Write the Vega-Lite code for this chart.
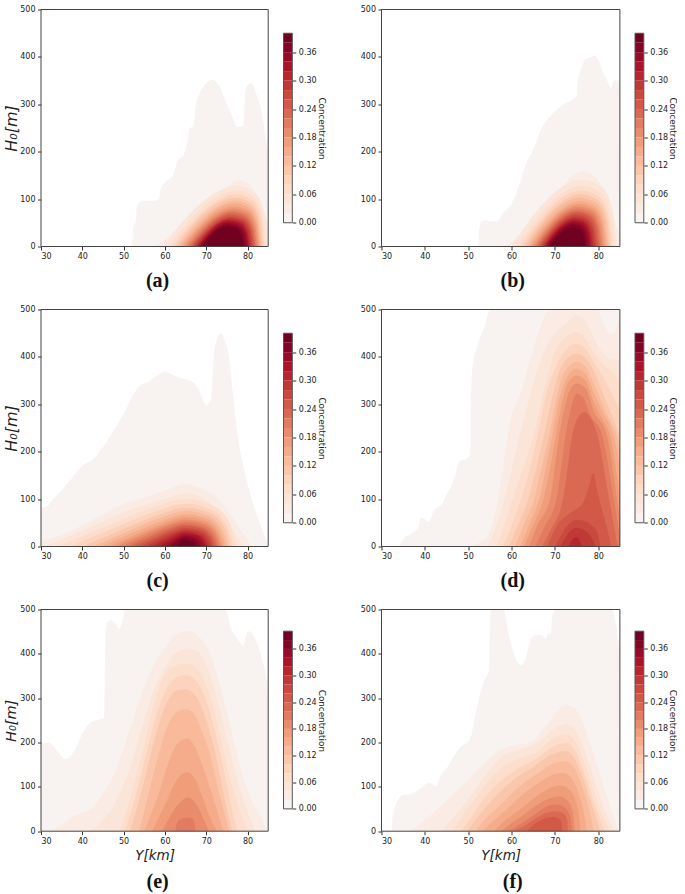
{"$schema":"https://vega.github.io/schema/vega-lite/v6.json","padding":{"left":3,"top":5.5,"right":0,"bottom":0},"background":"white","bounds":"flush","columns":5,"spacing":{"row":63,"column":14.5},
"config":{"view":{"stroke":null},"font":"DejaVu Sans","axis":{"grid":false,"labelFont":"DejaVu Sans","labelFontSize":8,"labelColor":"#222","labelOverlap":false,"tickColor":"#333","tickSize":3.5,"tickWidth":1,"domain":false,"labelPadding":2.5,"titleFont":"DejaVu Sans","titleFontWeight":"normal","titleColor":"#222"},"title":{"font":"Liberation Serif","fontWeight":"bold","fontSize":20,"color":"#111"}},
"datasets":{
"box":[{"x0":30,"x1":85,"y0":0,"y1":500}],
"bar":[{"lo":0,"hi":0.02,"c":0.01},{"lo":0.02,"hi":0.04,"c":0.03},{"lo":0.04,"hi":0.06,"c":0.05},{"lo":0.06,"hi":0.08,"c":0.07},{"lo":0.08,"hi":0.1,"c":0.09},{"lo":0.1,"hi":0.12,"c":0.11},{"lo":0.12,"hi":0.14,"c":0.13},{"lo":0.14,"hi":0.16,"c":0.15},{"lo":0.16,"hi":0.18,"c":0.17},{"lo":0.18,"hi":0.2,"c":0.19},{"lo":0.2,"hi":0.22,"c":0.21},{"lo":0.22,"hi":0.24,"c":0.23},{"lo":0.24,"hi":0.26,"c":0.25},{"lo":0.26,"hi":0.28,"c":0.27},{"lo":0.28,"hi":0.3,"c":0.29},{"lo":0.3,"hi":0.32,"c":0.31},{"lo":0.32,"hi":0.34,"c":0.33},{"lo":0.34,"hi":0.36,"c":0.35},{"lo":0.36,"hi":0.38,"c":0.37},{"lo":0.38,"hi":0.4,"c":0.39}],
"frame":[{"lo":0,"hi":0.4}],
"a":[
{"c":0.01,"Y":52,"H":0},{"c":0.01,"Y":52.2,"H":30},{"c":0.01,"Y":53,"H":60},{"c":0.01,"Y":53.2,"H":85},{"c":0.01,"Y":54,"H":95},{"c":0.01,"Y":55,"H":97},{"c":0.01,"Y":57,"H":96},{"c":0.01,"Y":58.5,"H":100},{"c":0.01,"Y":59,"H":120},{"c":0.01,"Y":60,"H":135},{"c":0.01,"Y":62,"H":150},{"c":0.01,"Y":63,"H":180},{"c":0.01,"Y":64.5,"H":192},{"c":0.01,"Y":65.5,"H":225},{"c":0.01,"Y":66,"H":250},{"c":0.01,"Y":66.8,"H":252},{"c":0.01,"Y":67.5,"H":300},{"c":0.01,"Y":68.5,"H":325},{"c":0.01,"Y":70,"H":345},{"c":0.01,"Y":71.5,"H":352},{"c":0.01,"Y":73,"H":340},{"c":0.01,"Y":75,"H":300},{"c":0.01,"Y":76.5,"H":270},{"c":0.01,"Y":77.5,"H":252},{"c":0.01,"Y":79,"H":255},{"c":0.01,"Y":79.5,"H":330},{"c":0.01,"Y":80,"H":340},{"c":0.01,"Y":81,"H":345},{"c":0.01,"Y":82,"H":325},{"c":0.01,"Y":83.5,"H":280},{"c":0.01,"Y":84.5,"H":225},{"c":0.01,"Y":85,"H":200},
{"c":0.03,"Y":57.3,"H":0},{"c":0.03,"Y":60,"H":15},{"c":0.03,"Y":65,"H":55},{"c":0.03,"Y":70,"H":93},{"c":0.03,"Y":75,"H":125},{"c":0.03,"Y":77.5,"H":140},{"c":0.03,"Y":80,"H":135},{"c":0.03,"Y":82,"H":110},{"c":0.03,"Y":84,"H":72},{"c":0.03,"Y":85,"H":50},
{"c":0.05,"Y":59.5,"H":0},{"c":0.05,"Y":65.8,"H":67},{"c":0.05,"Y":72.1,"H":113},{"c":0.05,"Y":77.5,"H":128},{"c":0.05,"Y":81.6,"H":115},{"c":0.05,"Y":84.1,"H":70},{"c":0.05,"Y":85,"H":20},
{"c":0.07,"Y":60.8,"H":0},{"c":0.07,"Y":66.6,"H":61},{"c":0.07,"Y":72.4,"H":104},{"c":0.07,"Y":77.4,"H":118},{"c":0.07,"Y":81.3,"H":106},{"c":0.07,"Y":83.6,"H":65},{"c":0.07,"Y":84.5,"H":0},
{"c":0.09,"Y":61.8,"H":0},{"c":0.09,"Y":67.2,"H":57},{"c":0.09,"Y":72.7,"H":97},{"c":0.09,"Y":77.3,"H":110},{"c":0.09,"Y":81,"H":99},{"c":0.09,"Y":83.3,"H":60},{"c":0.09,"Y":84.1,"H":0},
{"c":0.11,"Y":62.5,"H":0},{"c":0.11,"Y":67.6,"H":54},{"c":0.11,"Y":72.7,"H":91},{"c":0.11,"Y":77.1,"H":103},{"c":0.11,"Y":80.7,"H":93},{"c":0.11,"Y":82.9,"H":57},{"c":0.11,"Y":83.7,"H":0},
{"c":0.13,"Y":63.2,"H":0},{"c":0.13,"Y":68,"H":50},{"c":0.13,"Y":72.9,"H":85},{"c":0.13,"Y":77,"H":97},{"c":0.13,"Y":80.5,"H":87},{"c":0.13,"Y":82.6,"H":53},{"c":0.13,"Y":83.4,"H":0},
{"c":0.15,"Y":63.8,"H":0},{"c":0.15,"Y":68.4,"H":47},{"c":0.15,"Y":72.9,"H":80},{"c":0.15,"Y":76.8,"H":91},{"c":0.15,"Y":80.3,"H":82},{"c":0.15,"Y":82.3,"H":50},{"c":0.15,"Y":83.1,"H":0},
{"c":0.17,"Y":64.4,"H":0},{"c":0.17,"Y":68.7,"H":44},{"c":0.17,"Y":73,"H":75},{"c":0.17,"Y":76.7,"H":85},{"c":0.17,"Y":80,"H":77},{"c":0.17,"Y":82.1,"H":47},{"c":0.17,"Y":82.8,"H":0},
{"c":0.19,"Y":65,"H":0},{"c":0.19,"Y":69,"H":42},{"c":0.19,"Y":73.1,"H":70},{"c":0.19,"Y":76.5,"H":80},{"c":0.19,"Y":79.8,"H":72},{"c":0.19,"Y":81.8,"H":44},{"c":0.19,"Y":82.5,"H":0},
{"c":0.21,"Y":65.5,"H":0},{"c":0.21,"Y":69.3,"H":39},{"c":0.21,"Y":73.1,"H":66},{"c":0.21,"Y":76.3,"H":75},{"c":0.21,"Y":79.5,"H":68},{"c":0.21,"Y":81.5,"H":41},{"c":0.21,"Y":82.2,"H":0},
{"c":0.23,"Y":66,"H":0},{"c":0.23,"Y":69.6,"H":37},{"c":0.23,"Y":73.1,"H":62},{"c":0.23,"Y":76.2,"H":71},{"c":0.23,"Y":79.3,"H":64},{"c":0.23,"Y":81.2,"H":39},{"c":0.23,"Y":81.9,"H":0},
{"c":0.25,"Y":66.4,"H":0},{"c":0.25,"Y":69.8,"H":35},{"c":0.25,"Y":73.1,"H":59},{"c":0.25,"Y":76,"H":67},{"c":0.25,"Y":79.1,"H":60},{"c":0.25,"Y":80.9,"H":37},{"c":0.25,"Y":81.6,"H":0},
{"c":0.27,"Y":66.8,"H":0},{"c":0.27,"Y":70,"H":33},{"c":0.27,"Y":73.2,"H":55},{"c":0.27,"Y":75.9,"H":63},{"c":0.27,"Y":78.9,"H":57},{"c":0.27,"Y":80.7,"H":35},{"c":0.27,"Y":81.3,"H":0},
{"c":0.29,"Y":67.2,"H":0},{"c":0.29,"Y":70.2,"H":31},{"c":0.29,"Y":73.2,"H":53},{"c":0.29,"Y":75.7,"H":60},{"c":0.29,"Y":78.6,"H":54},{"c":0.29,"Y":80.4,"H":33},{"c":0.29,"Y":81,"H":0},
{"c":0.31,"Y":67.6,"H":0},{"c":0.31,"Y":70.4,"H":30},{"c":0.31,"Y":73.2,"H":50},{"c":0.31,"Y":75.6,"H":57},{"c":0.31,"Y":78.4,"H":51},{"c":0.31,"Y":80,"H":31},{"c":0.31,"Y":80.6,"H":0},
{"c":0.33,"Y":68,"H":0},{"c":0.33,"Y":70.6,"H":28},{"c":0.33,"Y":73.2,"H":48},{"c":0.33,"Y":75.4,"H":54},{"c":0.33,"Y":78.1,"H":49},{"c":0.33,"Y":79.7,"H":30},{"c":0.33,"Y":80.3,"H":0},
{"c":0.35,"Y":68.3,"H":0},{"c":0.35,"Y":70.8,"H":26},{"c":0.35,"Y":73.2,"H":44},{"c":0.35,"Y":75.3,"H":50},{"c":0.35,"Y":77.9,"H":45},{"c":0.35,"Y":79.4,"H":28},{"c":0.35,"Y":80,"H":0},
{"c":0.37,"Y":68.7,"H":0},{"c":0.37,"Y":70.9,"H":24},{"c":0.37,"Y":73.2,"H":41},{"c":0.37,"Y":75.1,"H":47},{"c":0.37,"Y":77.5,"H":42},{"c":0.37,"Y":79,"H":26},{"c":0.37,"Y":79.5,"H":0},
{"c":0.39,"Y":69,"H":0},{"c":0.39,"Y":71.1,"H":22},{"c":0.39,"Y":73.2,"H":37},{"c":0.39,"Y":75,"H":42},{"c":0.39,"Y":77.2,"H":38},{"c":0.39,"Y":78.5,"H":23},{"c":0.39,"Y":79,"H":0}],
"b":[
{"c":0.01,"Y":52.4,"H":0},{"c":0.01,"Y":52.5,"H":35},{"c":0.01,"Y":53,"H":52},{"c":0.01,"Y":54,"H":55},{"c":0.01,"Y":56,"H":52},{"c":0.01,"Y":57,"H":55},{"c":0.01,"Y":58,"H":70},{"c":0.01,"Y":60,"H":90},{"c":0.01,"Y":61,"H":110},{"c":0.01,"Y":62,"H":135},{"c":0.01,"Y":63,"H":165},{"c":0.01,"Y":65,"H":205},{"c":0.01,"Y":67,"H":250},{"c":0.01,"Y":70,"H":285},{"c":0.01,"Y":72,"H":300},{"c":0.01,"Y":74,"H":310},{"c":0.01,"Y":75,"H":318},{"c":0.01,"Y":75.2,"H":345},{"c":0.01,"Y":76,"H":375},{"c":0.01,"Y":77,"H":395},{"c":0.01,"Y":78,"H":398},{"c":0.01,"Y":79,"H":403},{"c":0.01,"Y":80,"H":395},{"c":0.01,"Y":81,"H":370},{"c":0.01,"Y":82,"H":350},{"c":0.01,"Y":83,"H":335},{"c":0.01,"Y":83.5,"H":350},{"c":0.01,"Y":85,"H":350},
{"c":0.03,"Y":58.2,"H":0},{"c":0.03,"Y":60,"H":10},{"c":0.03,"Y":65,"H":60},{"c":0.03,"Y":70,"H":110},{"c":0.03,"Y":74,"H":148},{"c":0.03,"Y":76.3,"H":158},{"c":0.03,"Y":79,"H":150},{"c":0.03,"Y":81,"H":122},{"c":0.03,"Y":83,"H":75},{"c":0.03,"Y":85,"H":20},
{"c":0.05,"Y":60,"H":0},{"c":0.05,"Y":65.7,"H":73},{"c":0.05,"Y":71.3,"H":124},{"c":0.05,"Y":76.2,"H":141},{"c":0.05,"Y":80.7,"H":127},{"c":0.05,"Y":83.3,"H":78},{"c":0.05,"Y":84.3,"H":0},
{"c":0.07,"Y":61.2,"H":0},{"c":0.07,"Y":66.4,"H":66},{"c":0.07,"Y":71.6,"H":113},{"c":0.07,"Y":76.1,"H":128},{"c":0.07,"Y":80.3,"H":115},{"c":0.07,"Y":82.8,"H":70},{"c":0.07,"Y":83.7,"H":0},
{"c":0.09,"Y":62,"H":0},{"c":0.09,"Y":66.9,"H":61},{"c":0.09,"Y":71.8,"H":104},{"c":0.09,"Y":76,"H":118},{"c":0.09,"Y":80,"H":106},{"c":0.09,"Y":82.3,"H":65},{"c":0.09,"Y":83.2,"H":0},
{"c":0.11,"Y":62.8,"H":0},{"c":0.11,"Y":67.4,"H":57},{"c":0.11,"Y":72,"H":97},{"c":0.11,"Y":75.9,"H":110},{"c":0.11,"Y":79.7,"H":99},{"c":0.11,"Y":82,"H":60},{"c":0.11,"Y":82.8,"H":0},
{"c":0.13,"Y":63.4,"H":0},{"c":0.13,"Y":67.7,"H":54},{"c":0.13,"Y":72,"H":91},{"c":0.13,"Y":75.7,"H":103},{"c":0.13,"Y":79.4,"H":93},{"c":0.13,"Y":81.6,"H":57},{"c":0.13,"Y":82.4,"H":0},
{"c":0.15,"Y":64,"H":0},{"c":0.15,"Y":68.1,"H":50},{"c":0.15,"Y":72.1,"H":84},{"c":0.15,"Y":75.6,"H":96},{"c":0.15,"Y":79.1,"H":86},{"c":0.15,"Y":81.2,"H":53},{"c":0.15,"Y":82,"H":0},
{"c":0.17,"Y":64.5,"H":0},{"c":0.17,"Y":68.4,"H":47},{"c":0.17,"Y":72.2,"H":79},{"c":0.17,"Y":75.5,"H":90},{"c":0.17,"Y":78.9,"H":81},{"c":0.17,"Y":80.9,"H":50},{"c":0.17,"Y":81.6,"H":0},
{"c":0.19,"Y":65,"H":0},{"c":0.19,"Y":68.6,"H":44},{"c":0.19,"Y":72.3,"H":75},{"c":0.19,"Y":75.4,"H":85},{"c":0.19,"Y":78.6,"H":77},{"c":0.19,"Y":80.5,"H":47},{"c":0.19,"Y":81.2,"H":0},
{"c":0.21,"Y":65.5,"H":0},{"c":0.21,"Y":68.9,"H":42},{"c":0.21,"Y":72.3,"H":70},{"c":0.21,"Y":75.2,"H":80},{"c":0.21,"Y":78.3,"H":72},{"c":0.21,"Y":80.1,"H":44},{"c":0.21,"Y":80.8,"H":0},
{"c":0.23,"Y":65.9,"H":0},{"c":0.23,"Y":69.1,"H":39},{"c":0.23,"Y":72.3,"H":66},{"c":0.23,"Y":75.1,"H":75},{"c":0.23,"Y":78,"H":68},{"c":0.23,"Y":79.8,"H":41},{"c":0.23,"Y":80.4,"H":0},
{"c":0.25,"Y":66.3,"H":0},{"c":0.25,"Y":69.3,"H":37},{"c":0.25,"Y":72.4,"H":62},{"c":0.25,"Y":75,"H":71},{"c":0.25,"Y":77.8,"H":64},{"c":0.25,"Y":79.4,"H":39},{"c":0.25,"Y":80,"H":0},
{"c":0.27,"Y":66.7,"H":0},{"c":0.27,"Y":69.5,"H":35},{"c":0.27,"Y":72.4,"H":59},{"c":0.27,"Y":74.8,"H":67},{"c":0.27,"Y":77.4,"H":60},{"c":0.27,"Y":79,"H":37},{"c":0.27,"Y":79.6,"H":0},
{"c":0.29,"Y":67,"H":0},{"c":0.29,"Y":69.7,"H":33},{"c":0.29,"Y":72.4,"H":55},{"c":0.29,"Y":74.7,"H":63},{"c":0.29,"Y":77.2,"H":57},{"c":0.29,"Y":78.7,"H":35},{"c":0.29,"Y":79.2,"H":0},
{"c":0.31,"Y":67.4,"H":0},{"c":0.31,"Y":69.9,"H":31},{"c":0.31,"Y":72.4,"H":52},{"c":0.31,"Y":74.6,"H":59},{"c":0.31,"Y":76.9,"H":53},{"c":0.31,"Y":78.3,"H":32},{"c":0.31,"Y":78.8,"H":0},
{"c":0.33,"Y":67.7,"H":0},{"c":0.33,"Y":70,"H":29},{"c":0.33,"Y":72.4,"H":48},{"c":0.33,"Y":74.4,"H":55},{"c":0.33,"Y":76.6,"H":50},{"c":0.33,"Y":77.9,"H":30},{"c":0.33,"Y":78.4,"H":0},
{"c":0.35,"Y":68,"H":0},{"c":0.35,"Y":70.2,"H":27},{"c":0.35,"Y":72.4,"H":45},{"c":0.35,"Y":74.3,"H":51},{"c":0.35,"Y":76.3,"H":46},{"c":0.35,"Y":77.6,"H":28},{"c":0.35,"Y":78,"H":0},
{"c":0.37,"Y":68.4,"H":0},{"c":0.37,"Y":70.4,"H":24},{"c":0.37,"Y":72.4,"H":41},{"c":0.37,"Y":74.1,"H":47},{"c":0.37,"Y":76,"H":42},{"c":0.37,"Y":77.1,"H":26},{"c":0.37,"Y":77.5,"H":0},
{"c":0.39,"Y":68.8,"H":0},{"c":0.39,"Y":70.6,"H":21},{"c":0.39,"Y":72.4,"H":35},{"c":0.39,"Y":74,"H":40},{"c":0.39,"Y":75.7,"H":36},{"c":0.39,"Y":76.6,"H":22},{"c":0.39,"Y":77,"H":0}],
"cc":[
{"c":0.01,"Y":30,"H":82},{"c":0.01,"Y":31.5,"H":85},{"c":0.01,"Y":33,"H":100},{"c":0.01,"Y":35,"H":118},{"c":0.01,"Y":37,"H":140},{"c":0.01,"Y":40,"H":170},{"c":0.01,"Y":43,"H":188},{"c":0.01,"Y":45,"H":210},{"c":0.01,"Y":48,"H":250},{"c":0.01,"Y":50,"H":280},{"c":0.01,"Y":52,"H":315},{"c":0.01,"Y":54,"H":340},{"c":0.01,"Y":56,"H":347},{"c":0.01,"Y":58,"H":360},{"c":0.01,"Y":60,"H":368},{"c":0.01,"Y":62,"H":362},{"c":0.01,"Y":64,"H":355},{"c":0.01,"Y":66,"H":350},{"c":0.01,"Y":68,"H":335},{"c":0.01,"Y":70,"H":298},{"c":0.01,"Y":71.2,"H":310},{"c":0.01,"Y":71.7,"H":390},{"c":0.01,"Y":72.5,"H":435},{"c":0.01,"Y":73.5,"H":450},{"c":0.01,"Y":74.5,"H":435},{"c":0.01,"Y":75.5,"H":400},{"c":0.01,"Y":76.5,"H":320},{"c":0.01,"Y":77.5,"H":240},{"c":0.01,"Y":79,"H":170},{"c":0.01,"Y":81,"H":100},{"c":0.01,"Y":83,"H":50},{"c":0.01,"Y":85,"H":0},
{"c":0.03,"Y":30,"H":10},{"c":0.03,"Y":35,"H":25},{"c":0.03,"Y":40,"H":45},{"c":0.03,"Y":45,"H":68},{"c":0.03,"Y":50,"H":90},{"c":0.03,"Y":55,"H":103},{"c":0.03,"Y":60,"H":118},{"c":0.03,"Y":65,"H":132},{"c":0.03,"Y":68,"H":125},{"c":0.03,"Y":70,"H":118},{"c":0.03,"Y":73,"H":100},{"c":0.03,"Y":75,"H":78},{"c":0.03,"Y":78,"H":40},{"c":0.03,"Y":81,"H":0},
{"c":0.05,"Y":31,"H":0},{"c":0.05,"Y":35,"H":16},{"c":0.05,"Y":40,"H":33},{"c":0.05,"Y":45,"H":53},{"c":0.05,"Y":50,"H":73},{"c":0.05,"Y":55,"H":87},{"c":0.05,"Y":60,"H":100},{"c":0.05,"Y":65,"H":112},{"c":0.05,"Y":68,"H":107},{"c":0.05,"Y":70,"H":98},{"c":0.05,"Y":73,"H":75},{"c":0.05,"Y":75,"H":53},{"c":0.05,"Y":77,"H":28},{"c":0.05,"Y":79,"H":0},
{"c":0.07,"Y":34,"H":0},{"c":0.07,"Y":46.4,"H":45},{"c":0.07,"Y":57.3,"H":83},{"c":0.07,"Y":65,"H":100},{"c":0.07,"Y":71.3,"H":88},{"c":0.07,"Y":75.6,"H":50},{"c":0.07,"Y":77.5,"H":0},
{"c":0.09,"Y":37,"H":0},{"c":0.09,"Y":48.2,"H":41},{"c":0.09,"Y":58,"H":75},{"c":0.09,"Y":65,"H":90},{"c":0.09,"Y":70.9,"H":79},{"c":0.09,"Y":74.9,"H":45},{"c":0.09,"Y":76.7,"H":0},
{"c":0.11,"Y":40,"H":0},{"c":0.11,"Y":50,"H":37},{"c":0.11,"Y":58.8,"H":68},{"c":0.11,"Y":65,"H":82},{"c":0.11,"Y":70.5,"H":72},{"c":0.11,"Y":74.4,"H":41},{"c":0.11,"Y":76,"H":0},
{"c":0.13,"Y":42.5,"H":0},{"c":0.13,"Y":51.5,"H":34},{"c":0.13,"Y":59.4,"H":62},{"c":0.13,"Y":65,"H":75},{"c":0.13,"Y":70.2,"H":66},{"c":0.13,"Y":73.8,"H":37},{"c":0.13,"Y":75.4,"H":0},
{"c":0.15,"Y":44.5,"H":0},{"c":0.15,"Y":52.7,"H":31},{"c":0.15,"Y":59.9,"H":56},{"c":0.15,"Y":65,"H":68},{"c":0.15,"Y":69.9,"H":60},{"c":0.15,"Y":73.3,"H":34},{"c":0.15,"Y":74.8,"H":0},
{"c":0.17,"Y":46.5,"H":0},{"c":0.17,"Y":53.9,"H":28},{"c":0.17,"Y":60.4,"H":51},{"c":0.17,"Y":65,"H":62},{"c":0.17,"Y":69.6,"H":55},{"c":0.17,"Y":72.8,"H":31},{"c":0.17,"Y":74.2,"H":0},
{"c":0.19,"Y":48,"H":0},{"c":0.19,"Y":54.8,"H":26},{"c":0.19,"Y":60.8,"H":47},{"c":0.19,"Y":65,"H":57},{"c":0.19,"Y":69.4,"H":50},{"c":0.19,"Y":72.4,"H":28},{"c":0.19,"Y":73.7,"H":0},
{"c":0.21,"Y":49.5,"H":0},{"c":0.21,"Y":55.7,"H":23},{"c":0.21,"Y":61.1,"H":43},{"c":0.21,"Y":65,"H":52},{"c":0.21,"Y":69.1,"H":46},{"c":0.21,"Y":72,"H":26},{"c":0.21,"Y":73.2,"H":0},
{"c":0.23,"Y":51,"H":0},{"c":0.23,"Y":56.6,"H":21},{"c":0.23,"Y":61.4,"H":39},{"c":0.23,"Y":64.9,"H":47},{"c":0.23,"Y":68.8,"H":41},{"c":0.23,"Y":71.5,"H":23},{"c":0.23,"Y":72.7,"H":0},
{"c":0.25,"Y":52.5,"H":0},{"c":0.25,"Y":57.5,"H":19},{"c":0.25,"Y":61.8,"H":36},{"c":0.25,"Y":64.9,"H":43},{"c":0.25,"Y":68.6,"H":38},{"c":0.25,"Y":71.1,"H":21},{"c":0.25,"Y":72.2,"H":0},
{"c":0.27,"Y":54,"H":0},{"c":0.27,"Y":58.3,"H":18},{"c":0.27,"Y":62.1,"H":32},{"c":0.27,"Y":64.8,"H":39},{"c":0.27,"Y":68.3,"H":34},{"c":0.27,"Y":70.7,"H":19},{"c":0.27,"Y":71.7,"H":0},
{"c":0.29,"Y":55.5,"H":0},{"c":0.29,"Y":59.2,"H":16},{"c":0.29,"Y":62.5,"H":29},{"c":0.29,"Y":64.8,"H":35},{"c":0.29,"Y":68,"H":31},{"c":0.29,"Y":70.2,"H":17},{"c":0.29,"Y":71.2,"H":0},
{"c":0.31,"Y":57,"H":0},{"c":0.31,"Y":60.1,"H":14},{"c":0.31,"Y":62.8,"H":26},{"c":0.31,"Y":64.7,"H":31},{"c":0.31,"Y":67.7,"H":27},{"c":0.31,"Y":69.7,"H":15},{"c":0.31,"Y":70.6,"H":0},
{"c":0.33,"Y":58.5,"H":0},{"c":0.33,"Y":61,"H":12},{"c":0.33,"Y":63.2,"H":22},{"c":0.33,"Y":64.7,"H":27},{"c":0.33,"Y":67.4,"H":24},{"c":0.33,"Y":69.2,"H":13},{"c":0.33,"Y":70,"H":0},
{"c":0.35,"Y":60,"H":0},{"c":0.35,"Y":61.8,"H":10},{"c":0.35,"Y":63.5,"H":19},{"c":0.35,"Y":64.6,"H":23},{"c":0.35,"Y":67,"H":20},{"c":0.35,"Y":68.6,"H":11},{"c":0.35,"Y":69.3,"H":0},
{"c":0.37,"Y":61,"H":0},{"c":0.37,"Y":62.4,"H":9},{"c":0.37,"Y":63.7,"H":16},{"c":0.37,"Y":64.6,"H":19},{"c":0.37,"Y":66.6,"H":17},{"c":0.37,"Y":67.9,"H":9},{"c":0.37,"Y":68.5,"H":0},
{"c":0.39,"Y":62.5,"H":0},{"c":0.39,"Y":63.3,"H":6},{"c":0.39,"Y":64,"H":12},{"c":0.39,"Y":64.6,"H":14},{"c":0.39,"Y":66,"H":12},{"c":0.39,"Y":67,"H":7},{"c":0.39,"Y":67.5,"H":0}],
"d":[
{"c":0.01,"Y":34,"H":0},{"c":0.01,"Y":35,"H":15},{"c":0.01,"Y":37,"H":28},{"c":0.01,"Y":38.5,"H":38},{"c":0.01,"Y":39,"H":60},{"c":0.01,"Y":40,"H":58},{"c":0.01,"Y":41,"H":52},{"c":0.01,"Y":42,"H":75},{"c":0.01,"Y":44,"H":90},{"c":0.01,"Y":45,"H":110},{"c":0.01,"Y":46,"H":125},{"c":0.01,"Y":47,"H":150},{"c":0.01,"Y":48,"H":180},{"c":0.01,"Y":49.5,"H":185},{"c":0.01,"Y":50.5,"H":195},{"c":0.01,"Y":50.6,"H":300},{"c":0.01,"Y":51,"H":380},{"c":0.01,"Y":52,"H":420},{"c":0.01,"Y":54,"H":470},{"c":0.01,"Y":55,"H":500},{"c":0.01,"Y":85,"H":500},
{"c":0.03,"Y":50,"H":0},{"c":0.03,"Y":54,"H":17},{"c":0.03,"Y":55.5,"H":45},{"c":0.03,"Y":57.8,"H":150},{"c":0.03,"Y":59.4,"H":250},{"c":0.03,"Y":62.5,"H":334},{"c":0.03,"Y":65.5,"H":432},{"c":0.03,"Y":69,"H":500},{"c":0.03,"Y":79.8,"H":500},{"c":0.03,"Y":81,"H":475},{"c":0.03,"Y":82.5,"H":450},{"c":0.03,"Y":83.2,"H":447},{"c":0.03,"Y":84,"H":455},{"c":0.03,"Y":85,"H":485},
{"c":0.05,"Y":54.5,"H":0},{"c":0.05,"Y":56.5,"H":45},{"c":0.05,"Y":58.5,"H":105},{"c":0.05,"Y":61.8,"H":235},{"c":0.05,"Y":64,"H":310},{"c":0.05,"Y":67,"H":400},{"c":0.05,"Y":70,"H":450},{"c":0.05,"Y":72.5,"H":470},{"c":0.05,"Y":75,"H":488},{"c":0.05,"Y":77,"H":475},{"c":0.05,"Y":79,"H":440},{"c":0.05,"Y":81,"H":410},{"c":0.05,"Y":83,"H":395},{"c":0.05,"Y":85,"H":395},
{"c":0.07,"Y":56.5,"H":0},{"c":0.07,"Y":58.5,"H":50},{"c":0.07,"Y":60.4,"H":105},{"c":0.07,"Y":63,"H":175},{"c":0.07,"Y":65.1,"H":235},{"c":0.07,"Y":67.5,"H":330},{"c":0.07,"Y":70,"H":410},{"c":0.07,"Y":73,"H":445},{"c":0.07,"Y":75,"H":453},{"c":0.07,"Y":77,"H":440},{"c":0.07,"Y":79,"H":410},{"c":0.07,"Y":81,"H":385},{"c":0.07,"Y":83,"H":370},{"c":0.07,"Y":85,"H":345},
{"c":0.09,"Y":58,"H":0},{"c":0.09,"Y":60,"H":45},{"c":0.09,"Y":62.4,"H":105},{"c":0.09,"Y":64.5,"H":175},{"c":0.09,"Y":66,"H":235},{"c":0.09,"Y":68,"H":320},{"c":0.09,"Y":70.5,"H":385},{"c":0.09,"Y":73,"H":420},{"c":0.09,"Y":75,"H":428},{"c":0.09,"Y":77,"H":418},{"c":0.09,"Y":79,"H":390},{"c":0.09,"Y":81,"H":360},{"c":0.09,"Y":83,"H":325},{"c":0.09,"Y":85,"H":290},
{"c":0.11,"Y":59.3,"H":0},{"c":0.11,"Y":61.5,"H":45},{"c":0.11,"Y":64,"H":105},{"c":0.11,"Y":65.8,"H":170},{"c":0.11,"Y":67.5,"H":235},{"c":0.11,"Y":69.5,"H":320},{"c":0.11,"Y":71.5,"H":380},{"c":0.11,"Y":75,"H":407},{"c":0.11,"Y":77,"H":398},{"c":0.11,"Y":79,"H":370},{"c":0.11,"Y":81,"H":325},{"c":0.11,"Y":83,"H":280},{"c":0.11,"Y":85,"H":235},
{"c":0.13,"Y":60.8,"H":0},{"c":0.13,"Y":63,"H":50},{"c":0.13,"Y":65.4,"H":105},{"c":0.13,"Y":67,"H":170},{"c":0.13,"Y":68.7,"H":235},{"c":0.13,"Y":70.3,"H":310},{"c":0.13,"Y":72,"H":365},{"c":0.13,"Y":75,"H":390},{"c":0.13,"Y":77,"H":380},{"c":0.13,"Y":79,"H":345},{"c":0.13,"Y":81,"H":300},{"c":0.13,"Y":83,"H":260},{"c":0.13,"Y":84.3,"H":235},{"c":0.13,"Y":85,"H":210},
{"c":0.15,"Y":62,"H":0},{"c":0.15,"Y":64,"H":45},{"c":0.15,"Y":66.5,"H":105},{"c":0.15,"Y":68,"H":170},{"c":0.15,"Y":69.4,"H":235},{"c":0.15,"Y":71,"H":310},{"c":0.15,"Y":72.7,"H":355},{"c":0.15,"Y":75,"H":375},{"c":0.15,"Y":77,"H":365},{"c":0.15,"Y":79,"H":325},{"c":0.15,"Y":81,"H":285},{"c":0.15,"Y":83.5,"H":235},{"c":0.15,"Y":85,"H":170},
{"c":0.17,"Y":62.8,"H":0},{"c":0.17,"Y":65,"H":45},{"c":0.17,"Y":67.5,"H":105},{"c":0.17,"Y":69,"H":170},{"c":0.17,"Y":70.2,"H":235},{"c":0.17,"Y":71.7,"H":305},{"c":0.17,"Y":73,"H":345},{"c":0.17,"Y":75,"H":361},{"c":0.17,"Y":77,"H":350},{"c":0.17,"Y":79,"H":305},{"c":0.17,"Y":81,"H":268},{"c":0.17,"Y":82.7,"H":235},{"c":0.17,"Y":85,"H":105},
{"c":0.19,"Y":64,"H":0},{"c":0.19,"Y":66,"H":45},{"c":0.19,"Y":69,"H":105},{"c":0.19,"Y":70,"H":170},{"c":0.19,"Y":71,"H":235},{"c":0.19,"Y":72.3,"H":295},{"c":0.19,"Y":73.5,"H":330},{"c":0.19,"Y":75,"H":344},{"c":0.19,"Y":77,"H":335},{"c":0.19,"Y":79,"H":285},{"c":0.19,"Y":82,"H":235},{"c":0.19,"Y":84.3,"H":105},{"c":0.19,"Y":85,"H":60},
{"c":0.21,"Y":65.5,"H":0},{"c":0.21,"Y":67.5,"H":40},{"c":0.21,"Y":70.5,"H":105},{"c":0.21,"Y":71.5,"H":170},{"c":0.21,"Y":72.5,"H":235},{"c":0.21,"Y":73.7,"H":290},{"c":0.21,"Y":75,"H":323},{"c":0.21,"Y":76.5,"H":315},{"c":0.21,"Y":78,"H":280},{"c":0.21,"Y":80.9,"H":235},{"c":0.21,"Y":83.5,"H":105},{"c":0.21,"Y":85,"H":20},
{"c":0.23,"Y":67,"H":0},{"c":0.23,"Y":69,"H":35},{"c":0.23,"Y":72,"H":105},{"c":0.23,"Y":73,"H":170},{"c":0.23,"Y":74,"H":235},{"c":0.23,"Y":75.2,"H":270},{"c":0.23,"Y":76.8,"H":284},{"c":0.23,"Y":78,"H":275},{"c":0.23,"Y":79.8,"H":235},{"c":0.23,"Y":82.4,"H":105},{"c":0.23,"Y":84.5,"H":0},
{"c":0.25,"Y":68.2,"H":0},{"c":0.25,"Y":70.5,"H":45},{"c":0.25,"Y":73.5,"H":70},{"c":0.25,"Y":76.6,"H":94},{"c":0.25,"Y":77.8,"H":125},{"c":0.25,"Y":78.9,"H":155},{"c":0.25,"Y":79.6,"H":125},{"c":0.25,"Y":80.5,"H":90},{"c":0.25,"Y":82,"H":40},{"c":0.25,"Y":83,"H":0},
{"c":0.27,"Y":70,"H":0},{"c":0.27,"Y":71.5,"H":25},{"c":0.27,"Y":73,"H":45},{"c":0.27,"Y":75,"H":56},{"c":0.27,"Y":77,"H":54},{"c":0.27,"Y":78.5,"H":45},{"c":0.27,"Y":80,"H":25},{"c":0.27,"Y":80.5,"H":0},
{"c":0.29,"Y":71.3,"H":0},{"c":0.29,"Y":72.5,"H":20},{"c":0.29,"Y":74,"H":36},{"c":0.29,"Y":75,"H":39},{"c":0.29,"Y":76.5,"H":36},{"c":0.29,"Y":78,"H":25},{"c":0.29,"Y":79.5,"H":0},
{"c":0.31,"Y":73.2,"H":0},{"c":0.31,"Y":74,"H":14},{"c":0.31,"Y":75,"H":20},{"c":0.31,"Y":75.6,"H":15},{"c":0.31,"Y":76.2,"H":0}],
"e":[
{"c":0.01,"Y":30,"H":198},{"c":0.01,"Y":32,"H":200},{"c":0.01,"Y":34,"H":180},{"c":0.01,"Y":36,"H":162},{"c":0.01,"Y":38,"H":180},{"c":0.01,"Y":40,"H":220},{"c":0.01,"Y":42,"H":245},{"c":0.01,"Y":44,"H":252},{"c":0.01,"Y":45.3,"H":256},{"c":0.01,"Y":45.6,"H":440},{"c":0.01,"Y":46,"H":470},{"c":0.01,"Y":46.8,"H":476},{"c":0.01,"Y":48,"H":468},{"c":0.01,"Y":49,"H":457},{"c":0.01,"Y":50,"H":487},{"c":0.01,"Y":50.3,"H":500},{"c":0.01,"Y":74.5,"H":500},{"c":0.01,"Y":76.2,"H":453},{"c":0.01,"Y":77.5,"H":434},{"c":0.01,"Y":79,"H":419},{"c":0.01,"Y":79.6,"H":442},{"c":0.01,"Y":80.4,"H":451},{"c":0.01,"Y":81.9,"H":434},{"c":0.01,"Y":83.5,"H":389},{"c":0.01,"Y":84.7,"H":337},{"c":0.01,"Y":85,"H":300},
{"c":0.03,"Y":32.7,"H":0},{"c":0.03,"Y":35,"H":15},{"c":0.03,"Y":38,"H":35},{"c":0.03,"Y":42,"H":50},{"c":0.03,"Y":45,"H":85},{"c":0.03,"Y":48,"H":135},{"c":0.03,"Y":51,"H":215},{"c":0.03,"Y":54,"H":300},{"c":0.03,"Y":57,"H":370},{"c":0.03,"Y":60,"H":415},{"c":0.03,"Y":63,"H":445},{"c":0.03,"Y":66,"H":452},{"c":0.03,"Y":68,"H":440},{"c":0.03,"Y":71,"H":400},{"c":0.03,"Y":73,"H":340},{"c":0.03,"Y":75,"H":270},{"c":0.03,"Y":77,"H":190},{"c":0.03,"Y":79,"H":120},{"c":0.03,"Y":81,"H":70},{"c":0.03,"Y":83,"H":35},{"c":0.03,"Y":84.7,"H":0},
{"c":0.05,"Y":42,"H":0},{"c":0.05,"Y":45,"H":25},{"c":0.05,"Y":48,"H":65},{"c":0.05,"Y":51,"H":130},{"c":0.05,"Y":54,"H":220},{"c":0.05,"Y":57,"H":310},{"c":0.05,"Y":60,"H":370},{"c":0.05,"Y":63,"H":405},{"c":0.05,"Y":66,"H":412},{"c":0.05,"Y":68,"H":405},{"c":0.05,"Y":70,"H":375},{"c":0.05,"Y":72,"H":320},{"c":0.05,"Y":74,"H":250},{"c":0.05,"Y":76,"H":170},{"c":0.05,"Y":78,"H":100},{"c":0.05,"Y":80,"H":45},{"c":0.05,"Y":81.9,"H":0},
{"c":0.07,"Y":49,"H":0},{"c":0.07,"Y":51,"H":55},{"c":0.07,"Y":53,"H":125},{"c":0.07,"Y":55,"H":195},{"c":0.07,"Y":57,"H":275},{"c":0.07,"Y":59,"H":335},{"c":0.07,"Y":62,"H":372},{"c":0.07,"Y":65.5,"H":378},{"c":0.07,"Y":68,"H":365},{"c":0.07,"Y":70,"H":330},{"c":0.07,"Y":72,"H":270},{"c":0.07,"Y":74,"H":190},{"c":0.07,"Y":76,"H":110},{"c":0.07,"Y":78,"H":50},{"c":0.07,"Y":79.9,"H":0},
{"c":0.09,"Y":50.3,"H":0},{"c":0.09,"Y":52,"H":50},{"c":0.09,"Y":54,"H":120},{"c":0.09,"Y":56,"H":195},{"c":0.09,"Y":58,"H":265},{"c":0.09,"Y":60,"H":315},{"c":0.09,"Y":62.5,"H":345},{"c":0.09,"Y":65,"H":352},{"c":0.09,"Y":67.5,"H":340},{"c":0.09,"Y":70,"H":295},{"c":0.09,"Y":72,"H":230},{"c":0.09,"Y":74,"H":150},{"c":0.09,"Y":76,"H":60},{"c":0.09,"Y":77.5,"H":0},
{"c":0.11,"Y":51.5,"H":0},{"c":0.11,"Y":53,"H":45},{"c":0.11,"Y":55,"H":115},{"c":0.11,"Y":57,"H":190},{"c":0.11,"Y":59,"H":255},{"c":0.11,"Y":61,"H":300},{"c":0.11,"Y":63,"H":318},{"c":0.11,"Y":65,"H":320},{"c":0.11,"Y":67.5,"H":305},{"c":0.11,"Y":70,"H":250},{"c":0.11,"Y":72,"H":185},{"c":0.11,"Y":74,"H":95},{"c":0.11,"Y":75.5,"H":30},{"c":0.11,"Y":76.3,"H":0},
{"c":0.13,"Y":53.7,"H":0},{"c":0.13,"Y":55,"H":45},{"c":0.13,"Y":57,"H":120},{"c":0.13,"Y":59,"H":190},{"c":0.13,"Y":61,"H":245},{"c":0.13,"Y":63,"H":270},{"c":0.13,"Y":65,"H":275},{"c":0.13,"Y":67,"H":265},{"c":0.13,"Y":69,"H":225},{"c":0.13,"Y":71,"H":170},{"c":0.13,"Y":73,"H":90},{"c":0.13,"Y":75,"H":20},{"c":0.13,"Y":75.5,"H":0},
{"c":0.15,"Y":54.9,"H":0},{"c":0.15,"Y":56.5,"H":35},{"c":0.15,"Y":58.5,"H":85},{"c":0.15,"Y":60.5,"H":145},{"c":0.15,"Y":62.5,"H":190},{"c":0.15,"Y":64,"H":205},{"c":0.15,"Y":65.5,"H":209},{"c":0.15,"Y":67,"H":195},{"c":0.15,"Y":69,"H":150},{"c":0.15,"Y":71,"H":95},{"c":0.15,"Y":73,"H":35},{"c":0.15,"Y":74.2,"H":0},
{"c":0.17,"Y":56.9,"H":0},{"c":0.17,"Y":58.5,"H":30},{"c":0.17,"Y":60.5,"H":70},{"c":0.17,"Y":62.5,"H":110},{"c":0.17,"Y":64,"H":128},{"c":0.17,"Y":65.5,"H":133},{"c":0.17,"Y":67,"H":122},{"c":0.17,"Y":69,"H":80},{"c":0.17,"Y":71,"H":30},{"c":0.17,"Y":72.6,"H":0},
{"c":0.19,"Y":59.3,"H":0},{"c":0.19,"Y":60.5,"H":20},{"c":0.19,"Y":62,"H":45},{"c":0.19,"Y":64,"H":68},{"c":0.19,"Y":65.5,"H":76},{"c":0.19,"Y":67,"H":68},{"c":0.19,"Y":69,"H":35},{"c":0.19,"Y":70.2,"H":10},{"c":0.19,"Y":70.6,"H":0},
{"c":0.21,"Y":62.5,"H":0},{"c":0.21,"Y":62.9,"H":18},{"c":0.21,"Y":64,"H":28},{"c":0.21,"Y":65.5,"H":31},{"c":0.21,"Y":66.9,"H":27},{"c":0.21,"Y":67.4,"H":0}],
"f":[
{"c":0.01,"Y":32.4,"H":0},{"c":0.01,"Y":32.5,"H":28},{"c":0.01,"Y":33.6,"H":66},{"c":0.01,"Y":34.8,"H":81},{"c":0.01,"Y":37,"H":85},{"c":0.01,"Y":39,"H":96},{"c":0.01,"Y":41,"H":109},{"c":0.01,"Y":42.8,"H":100},{"c":0.01,"Y":43,"H":111},{"c":0.01,"Y":45.5,"H":149},{"c":0.01,"Y":47.8,"H":186},{"c":0.01,"Y":50.5,"H":209},{"c":0.01,"Y":51.5,"H":254},{"c":0.01,"Y":52.5,"H":299},{"c":0.01,"Y":53.6,"H":337},{"c":0.01,"Y":54.8,"H":363},{"c":0.01,"Y":55,"H":457},{"c":0.01,"Y":55.2,"H":500},{"c":0.01,"Y":58.2,"H":500},{"c":0.01,"Y":59.4,"H":442},{"c":0.01,"Y":61,"H":389},{"c":0.01,"Y":62.2,"H":374},{"c":0.01,"Y":63.2,"H":389},{"c":0.01,"Y":64.4,"H":431},{"c":0.01,"Y":65.5,"H":442},{"c":0.01,"Y":67,"H":442},{"c":0.01,"Y":67.8,"H":435},{"c":0.01,"Y":68.5,"H":446},{"c":0.01,"Y":69,"H":446},{"c":0.01,"Y":69.4,"H":487},{"c":0.01,"Y":70.2,"H":500},{"c":0.01,"Y":83.2,"H":500},{"c":0.01,"Y":84,"H":472},{"c":0.01,"Y":84.8,"H":420},{"c":0.01,"Y":85,"H":405},
{"c":0.03,"Y":36.7,"H":0},{"c":0.03,"Y":39,"H":18},{"c":0.03,"Y":41.25,"H":36},{"c":0.03,"Y":45,"H":70},{"c":0.03,"Y":49,"H":107},{"c":0.03,"Y":52.8,"H":145},{"c":0.03,"Y":56.6,"H":178},{"c":0.03,"Y":60,"H":192},{"c":0.03,"Y":64.35,"H":201},{"c":0.03,"Y":68.2,"H":242},{"c":0.03,"Y":71,"H":275},{"c":0.03,"Y":72.8,"H":286},{"c":0.03,"Y":75.1,"H":272},{"c":0.03,"Y":78.2,"H":197},{"c":0.03,"Y":81.3,"H":100},{"c":0.03,"Y":83.6,"H":32},{"c":0.03,"Y":84.8,"H":0},
{"c":0.05,"Y":44,"H":0},{"c":0.05,"Y":46,"H":25},{"c":0.05,"Y":49,"H":60},{"c":0.05,"Y":52,"H":100},{"c":0.05,"Y":55,"H":140},{"c":0.05,"Y":58,"H":170},{"c":0.05,"Y":62,"H":185},{"c":0.05,"Y":66,"H":200},{"c":0.05,"Y":69,"H":225},{"c":0.05,"Y":72.8,"H":242},{"c":0.05,"Y":75,"H":225},{"c":0.05,"Y":77.5,"H":165},{"c":0.05,"Y":80,"H":90},{"c":0.05,"Y":82.5,"H":25},{"c":0.05,"Y":84,"H":0},
{"c":0.07,"Y":46.3,"H":0},{"c":0.07,"Y":49,"H":40},{"c":0.07,"Y":52,"H":80},{"c":0.07,"Y":55,"H":118},{"c":0.07,"Y":58,"H":145},{"c":0.07,"Y":62,"H":165},{"c":0.07,"Y":66,"H":180},{"c":0.07,"Y":69,"H":205},{"c":0.07,"Y":72.8,"H":218},{"c":0.07,"Y":75,"H":200},{"c":0.07,"Y":77,"H":150},{"c":0.07,"Y":79.5,"H":75},{"c":0.07,"Y":81.5,"H":25},{"c":0.07,"Y":82.8,"H":0},
{"c":0.09,"Y":48.2,"H":0},{"c":0.09,"Y":50,"H":22},{"c":0.09,"Y":53,"H":65},{"c":0.09,"Y":56,"H":100},{"c":0.09,"Y":59,"H":125},{"c":0.09,"Y":62,"H":145},{"c":0.09,"Y":66,"H":165},{"c":0.09,"Y":69,"H":188},{"c":0.09,"Y":72.7,"H":199},{"c":0.09,"Y":74.8,"H":180},{"c":0.09,"Y":77,"H":125},{"c":0.09,"Y":79,"H":65},{"c":0.09,"Y":81.5,"H":0},
{"c":0.11,"Y":49.7,"H":0},{"c":0.11,"Y":52,"H":30},{"c":0.11,"Y":55,"H":65},{"c":0.11,"Y":58,"H":95},{"c":0.11,"Y":61,"H":120},{"c":0.11,"Y":65,"H":145},{"c":0.11,"Y":69,"H":172},{"c":0.11,"Y":72.5,"H":181},{"c":0.11,"Y":74.5,"H":165},{"c":0.11,"Y":76.5,"H":120},{"c":0.11,"Y":78.5,"H":60},{"c":0.11,"Y":80.5,"H":0},
{"c":0.13,"Y":51.6,"H":0},{"c":0.13,"Y":54,"H":28},{"c":0.13,"Y":57,"H":55},{"c":0.13,"Y":60,"H":85},{"c":0.13,"Y":63,"H":110},{"c":0.13,"Y":66,"H":130},{"c":0.13,"Y":69,"H":150},{"c":0.13,"Y":72.3,"H":158},{"c":0.13,"Y":74.3,"H":145},{"c":0.13,"Y":76.5,"H":95},{"c":0.13,"Y":78,"H":45},{"c":0.13,"Y":79,"H":0},
{"c":0.15,"Y":53.2,"H":0},{"c":0.15,"Y":56,"H":25},{"c":0.15,"Y":59,"H":50},{"c":0.15,"Y":62,"H":78},{"c":0.15,"Y":65,"H":100},{"c":0.15,"Y":68,"H":120},{"c":0.15,"Y":70.5,"H":130},{"c":0.15,"Y":72,"H":131},{"c":0.15,"Y":74,"H":118},{"c":0.15,"Y":75.5,"H":85},{"c":0.15,"Y":76.8,"H":35},{"c":0.15,"Y":77.4,"H":0},
{"c":0.17,"Y":55.9,"H":0},{"c":0.17,"Y":58,"H":20},{"c":0.17,"Y":61,"H":42},{"c":0.17,"Y":64,"H":65},{"c":0.17,"Y":67,"H":87},{"c":0.17,"Y":70,"H":101},{"c":0.17,"Y":71.3,"H":103},{"c":0.17,"Y":73.5,"H":92},{"c":0.17,"Y":75,"H":60},{"c":0.17,"Y":75.7,"H":25},{"c":0.17,"Y":75.9,"H":0},
{"c":0.19,"Y":57.5,"H":0},{"c":0.19,"Y":60,"H":18},{"c":0.19,"Y":63,"H":38},{"c":0.19,"Y":66,"H":60},{"c":0.19,"Y":69,"H":75},{"c":0.19,"Y":71,"H":78},{"c":0.19,"Y":73,"H":68},{"c":0.19,"Y":74.2,"H":40},{"c":0.19,"Y":74.6,"H":0},
{"c":0.21,"Y":59.3,"H":0},{"c":0.21,"Y":61,"H":10},{"c":0.21,"Y":63.5,"H":25},{"c":0.21,"Y":66,"H":42},{"c":0.21,"Y":68,"H":55},{"c":0.21,"Y":70,"H":60},{"c":0.21,"Y":72,"H":55},{"c":0.21,"Y":73.5,"H":35},{"c":0.21,"Y":74,"H":0},
{"c":0.23,"Y":60.5,"H":0},{"c":0.23,"Y":63,"H":12},{"c":0.23,"Y":65,"H":25},{"c":0.23,"Y":67,"H":37},{"c":0.23,"Y":70,"H":45},{"c":0.23,"Y":72,"H":40},{"c":0.23,"Y":72.9,"H":22},{"c":0.23,"Y":73,"H":0},
{"c":0.25,"Y":63.6,"H":0},{"c":0.25,"Y":64.5,"H":10},{"c":0.25,"Y":66,"H":20},{"c":0.25,"Y":68,"H":30},{"c":0.25,"Y":69.5,"H":32},{"c":0.25,"Y":71,"H":28},{"c":0.25,"Y":71.6,"H":15},{"c":0.25,"Y":71.7,"H":0}]
},
"concat":[
{"width":227.2,"height":237,"title":{"text":"(a)","orient":"bottom","offset":10,"dx":3},"layer":[{"data":{"name":"a"},"mark":{"type":"area","interpolate":"monotone","clip":true},"encoding":{"x":{"field":"Y","type":"quantitative","scale":{"domain":[30,85],"nice":false,"zero":false},"axis":{"values":[30,40,50,60,70,80],"title":null}},"y":{"field":"H","type":"quantitative","stack":null,"scale":{"domain":[0,500],"nice":false},"axis":{"values":[0,100,200,300,400,500],"title":"H₀[m]","titleFontSize":16,"titleFontStyle":"italic","titlePadding":0}},"color":{"field":"c","type":"quantitative","legend":null,"scale":{"domain":[0,0.08,0.16,0.24,0.32,0.4],"range":["#f7f7f7","#fddbc7","#f4a582","#d6604d","#b2182b","#67001f"]}},"detail":{"field":"c"}}},{"data":{"name":"box"},"mark":{"type":"rect","fillOpacity":0,"stroke":"#444","strokeWidth":1},"encoding":{"x":{"field":"x0","type":"quantitative"},"x2":{"field":"x1"},"y":{"field":"y0","type":"quantitative"},"y2":{"field":"y1"}}}]},
{"width":8.8,"height":237,"layer":[{"data":{"name":"bar"},"mark":{"type":"rect"},"encoding":{"y":{"field":"lo","type":"quantitative","scale":{"domain":[-0.0501,0.4501],"nice":false,"zero":false},"axis":{"orient":"right","values":[0,0.06,0.12,0.18,0.24,0.3,0.36],"tickCount":10,"format":".2f","title":"Concentration","titleFontSize":8.8,"titlePadding":0}},"y2":{"field":"hi"},"color":{"field":"c","type":"quantitative","legend":null,"scale":{"domain":[0,0.08,0.16,0.24,0.32,0.4],"range":["#f7f7f7","#fddbc7","#f4a582","#d6604d","#b2182b","#67001f"]}}}},{"data":{"name":"frame"},"mark":{"type":"rect","fillOpacity":0,"stroke":"#555","strokeWidth":1},"encoding":{"y":{"field":"lo","type":"quantitative"},"y2":{"field":"hi"}}}]},
{"width":59.5,"height":237,"data":{"values":[{"s":0}]},"mark":{"type":"point","opacity":0},"encoding":{}},
{"width":238.4,"height":237,"title":{"text":"(b)","orient":"bottom","offset":10,"dx":12},"layer":[{"data":{"name":"b"},"mark":{"type":"area","interpolate":"monotone","clip":true},"encoding":{"x":{"field":"Y","type":"quantitative","scale":{"domain":[30,85],"nice":false,"zero":false},"axis":{"values":[30,40,50,60,70,80],"title":null}},"y":{"field":"H","type":"quantitative","stack":null,"scale":{"domain":[0,500],"nice":false},"axis":{"values":[0,100,200,300,400,500],"title":null}},"color":{"field":"c","type":"quantitative","legend":null,"scale":{"domain":[0,0.08,0.16,0.24,0.32,0.4],"range":["#f7f7f7","#fddbc7","#f4a582","#d6604d","#b2182b","#67001f"]}},"detail":{"field":"c"}}},{"data":{"name":"box"},"mark":{"type":"rect","fillOpacity":0,"stroke":"#444","strokeWidth":1},"encoding":{"x":{"field":"x0","type":"quantitative"},"x2":{"field":"x1"},"y":{"field":"y0","type":"quantitative"},"y2":{"field":"y1"}}}]},
{"width":8.8,"height":237,"layer":[{"data":{"name":"bar"},"mark":{"type":"rect"},"encoding":{"y":{"field":"lo","type":"quantitative","scale":{"domain":[-0.0501,0.4501],"nice":false,"zero":false},"axis":{"orient":"right","values":[0,0.06,0.12,0.18,0.24,0.3,0.36],"tickCount":10,"format":".2f","title":"Concentration","titleFontSize":8.8,"titlePadding":0}},"y2":{"field":"hi"},"color":{"field":"c","type":"quantitative","legend":null,"scale":{"domain":[0,0.08,0.16,0.24,0.32,0.4],"range":["#f7f7f7","#fddbc7","#f4a582","#d6604d","#b2182b","#67001f"]}}}},{"data":{"name":"frame"},"mark":{"type":"rect","fillOpacity":0,"stroke":"#555","strokeWidth":1},"encoding":{"y":{"field":"lo","type":"quantitative"},"y2":{"field":"hi"}}}]},
{"width":227.2,"height":237,"title":{"text":"(c)","orient":"bottom","offset":10,"dx":3},"layer":[{"data":{"name":"cc"},"mark":{"type":"area","interpolate":"monotone","clip":true},"encoding":{"x":{"field":"Y","type":"quantitative","scale":{"domain":[30,85],"nice":false,"zero":false},"axis":{"values":[30,40,50,60,70,80],"title":null}},"y":{"field":"H","type":"quantitative","stack":null,"scale":{"domain":[0,500],"nice":false},"axis":{"values":[0,100,200,300,400,500],"title":"H₀[m]","titleFontSize":16,"titleFontStyle":"italic","titlePadding":0}},"color":{"field":"c","type":"quantitative","legend":null,"scale":{"domain":[0,0.08,0.16,0.24,0.32,0.4],"range":["#f7f7f7","#fddbc7","#f4a582","#d6604d","#b2182b","#67001f"]}},"detail":{"field":"c"}}},{"data":{"name":"box"},"mark":{"type":"rect","fillOpacity":0,"stroke":"#444","strokeWidth":1},"encoding":{"x":{"field":"x0","type":"quantitative"},"x2":{"field":"x1"},"y":{"field":"y0","type":"quantitative"},"y2":{"field":"y1"}}}]},
{"width":8.8,"height":237,"layer":[{"data":{"name":"bar"},"mark":{"type":"rect"},"encoding":{"y":{"field":"lo","type":"quantitative","scale":{"domain":[-0.0501,0.4501],"nice":false,"zero":false},"axis":{"orient":"right","values":[0,0.06,0.12,0.18,0.24,0.3,0.36],"tickCount":10,"format":".2f","title":"Concentration","titleFontSize":8.8,"titlePadding":0}},"y2":{"field":"hi"},"color":{"field":"c","type":"quantitative","legend":null,"scale":{"domain":[0,0.08,0.16,0.24,0.32,0.4],"range":["#f7f7f7","#fddbc7","#f4a582","#d6604d","#b2182b","#67001f"]}}}},{"data":{"name":"frame"},"mark":{"type":"rect","fillOpacity":0,"stroke":"#555","strokeWidth":1},"encoding":{"y":{"field":"lo","type":"quantitative"},"y2":{"field":"hi"}}}]},
{"width":59.5,"height":237,"data":{"values":[{"s":0}]},"mark":{"type":"point","opacity":0},"encoding":{}},
{"width":238.4,"height":237,"title":{"text":"(d)","orient":"bottom","offset":10,"dx":12},"layer":[{"data":{"name":"d"},"mark":{"type":"area","interpolate":"monotone","clip":true},"encoding":{"x":{"field":"Y","type":"quantitative","scale":{"domain":[30,85],"nice":false,"zero":false},"axis":{"values":[30,40,50,60,70,80],"title":null}},"y":{"field":"H","type":"quantitative","stack":null,"scale":{"domain":[0,500],"nice":false},"axis":{"values":[0,100,200,300,400,500],"title":null}},"color":{"field":"c","type":"quantitative","legend":null,"scale":{"domain":[0,0.08,0.16,0.24,0.32,0.4],"range":["#f7f7f7","#fddbc7","#f4a582","#d6604d","#b2182b","#67001f"]}},"detail":{"field":"c"}}},{"data":{"name":"box"},"mark":{"type":"rect","fillOpacity":0,"stroke":"#444","strokeWidth":1},"encoding":{"x":{"field":"x0","type":"quantitative"},"x2":{"field":"x1"},"y":{"field":"y0","type":"quantitative"},"y2":{"field":"y1"}}}]},
{"width":8.8,"height":237,"layer":[{"data":{"name":"bar"},"mark":{"type":"rect"},"encoding":{"y":{"field":"lo","type":"quantitative","scale":{"domain":[-0.0501,0.4501],"nice":false,"zero":false},"axis":{"orient":"right","values":[0,0.06,0.12,0.18,0.24,0.3,0.36],"tickCount":10,"format":".2f","title":"Concentration","titleFontSize":8.8,"titlePadding":0}},"y2":{"field":"hi"},"color":{"field":"c","type":"quantitative","legend":null,"scale":{"domain":[0,0.08,0.16,0.24,0.32,0.4],"range":["#f7f7f7","#fddbc7","#f4a582","#d6604d","#b2182b","#67001f"]}}}},{"data":{"name":"frame"},"mark":{"type":"rect","fillOpacity":0,"stroke":"#555","strokeWidth":1},"encoding":{"y":{"field":"lo","type":"quantitative"},"y2":{"field":"hi"}}}]},
{"width":227.2,"height":221.7,"title":{"text":"(e)","orient":"bottom","offset":10,"dx":3},"layer":[{"data":{"name":"e"},"mark":{"type":"area","interpolate":"monotone","clip":true},"encoding":{"x":{"field":"Y","type":"quantitative","scale":{"domain":[30,85],"nice":false,"zero":false},"axis":{"values":[30,40,50,60,70,80],"title":"Y[km]","titleFontSize":13.5,"titleFontStyle":"italic","titlePadding":3}},"y":{"field":"H","type":"quantitative","stack":null,"scale":{"domain":[0,500],"nice":false},"axis":{"values":[0,100,200,300,400,500],"title":"H₀[m]","titleFontSize":14.5,"titleFontStyle":"italic","titlePadding":1}},"color":{"field":"c","type":"quantitative","legend":null,"scale":{"domain":[0,0.08,0.16,0.24,0.32,0.4],"range":["#f7f7f7","#fddbc7","#f4a582","#d6604d","#b2182b","#67001f"]}},"detail":{"field":"c"}}},{"data":{"name":"box"},"mark":{"type":"rect","fillOpacity":0,"stroke":"#444","strokeWidth":1},"encoding":{"x":{"field":"x0","type":"quantitative"},"x2":{"field":"x1"},"y":{"field":"y0","type":"quantitative"},"y2":{"field":"y1"}}}]},
{"width":8.8,"height":221.7,"layer":[{"data":{"name":"bar"},"mark":{"type":"rect"},"encoding":{"y":{"field":"lo","type":"quantitative","scale":{"domain":[-0.0502,0.4488],"nice":false,"zero":false},"axis":{"orient":"right","values":[0,0.06,0.12,0.18,0.24,0.3,0.36],"tickCount":10,"format":".2f","title":"Concentration","titleFontSize":8.8,"titlePadding":0}},"y2":{"field":"hi"},"color":{"field":"c","type":"quantitative","legend":null,"scale":{"domain":[0,0.08,0.16,0.24,0.32,0.4],"range":["#f7f7f7","#fddbc7","#f4a582","#d6604d","#b2182b","#67001f"]}}}},{"data":{"name":"frame"},"mark":{"type":"rect","fillOpacity":0,"stroke":"#555","strokeWidth":1},"encoding":{"y":{"field":"lo","type":"quantitative"},"y2":{"field":"hi"}}}]},
{"width":59.5,"height":221.7,"data":{"values":[{"s":0}]},"mark":{"type":"point","opacity":0},"encoding":{}},
{"width":238.4,"height":221.7,"title":{"text":"(f)","orient":"bottom","offset":10,"dx":12},"layer":[{"data":{"name":"f"},"mark":{"type":"area","interpolate":"monotone","clip":true},"encoding":{"x":{"field":"Y","type":"quantitative","scale":{"domain":[30,85],"nice":false,"zero":false},"axis":{"values":[30,40,50,60,70,80],"title":"Y[km]","titleFontSize":13.5,"titleFontStyle":"italic","titlePadding":3}},"y":{"field":"H","type":"quantitative","stack":null,"scale":{"domain":[0,500],"nice":false},"axis":{"values":[0,100,200,300,400,500],"title":null}},"color":{"field":"c","type":"quantitative","legend":null,"scale":{"domain":[0,0.08,0.16,0.24,0.32,0.4],"range":["#f7f7f7","#fddbc7","#f4a582","#d6604d","#b2182b","#67001f"]}},"detail":{"field":"c"}}},{"data":{"name":"box"},"mark":{"type":"rect","fillOpacity":0,"stroke":"#444","strokeWidth":1},"encoding":{"x":{"field":"x0","type":"quantitative"},"x2":{"field":"x1"},"y":{"field":"y0","type":"quantitative"},"y2":{"field":"y1"}}}]},
{"width":8.8,"height":221.7,"layer":[{"data":{"name":"bar"},"mark":{"type":"rect"},"encoding":{"y":{"field":"lo","type":"quantitative","scale":{"domain":[-0.0502,0.4488],"nice":false,"zero":false},"axis":{"orient":"right","values":[0,0.06,0.12,0.18,0.24,0.3,0.36],"tickCount":10,"format":".2f","title":"Concentration","titleFontSize":8.8,"titlePadding":0}},"y2":{"field":"hi"},"color":{"field":"c","type":"quantitative","legend":null,"scale":{"domain":[0,0.08,0.16,0.24,0.32,0.4],"range":["#f7f7f7","#fddbc7","#f4a582","#d6604d","#b2182b","#67001f"]}}}},{"data":{"name":"frame"},"mark":{"type":"rect","fillOpacity":0,"stroke":"#555","strokeWidth":1},"encoding":{"y":{"field":"lo","type":"quantitative"},"y2":{"field":"hi"}}}]}
]}
